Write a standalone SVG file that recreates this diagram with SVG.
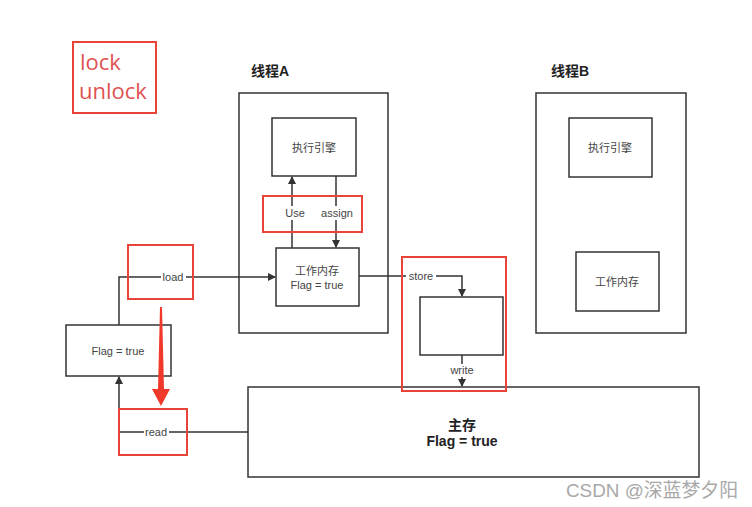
<svg xmlns="http://www.w3.org/2000/svg" width="752" height="507" viewBox="0 0 752 507">
<defs>
<marker id="ah" markerWidth="8" markerHeight="8" refX="7" refY="4" orient="auto" markerUnits="userSpaceOnUse">
<path d="M0,0 L8,4 L0,8 Z" fill="#333"/>
</marker>
<style>
.box{fill:#fff;stroke:#333;stroke-width:1.5}
.red{fill:none;stroke:#e8443a;stroke-width:2}
.ln{fill:none;stroke:#333;stroke-width:1.5}
.t{font-family:"Liberation Sans","Noto Sans CJK SC",sans-serif;font-size:11px;fill:#444;text-anchor:middle}
.tb{font-family:"Liberation Sans","Noto Sans CJK SC",sans-serif;font-size:14px;font-weight:bold;fill:#222}
.lbl{font-family:"Liberation Sans",sans-serif;font-size:11px;fill:#444;text-anchor:middle}
</style>
</defs>
<rect width="752" height="507" fill="#fff"/>

<g id="lockbox">
<rect class="red" x="73" y="42" width="83" height="71"/>
<text x="80" y="70" font-family="Open Sans,Liberation Sans,sans-serif" font-size="22" fill="#e05252">lock</text>
<text x="79" y="99" font-family="Open Sans,Liberation Sans,sans-serif" font-size="22" fill="#e05252">unlock</text>
</g>

<g id="threadA">
<text class="tb" x="251" y="76">线程A</text>
<rect class="box" x="239" y="93" width="149" height="240"/>
</g>
<g id="engineA">
<rect class="box" x="272" y="118" width="84" height="58"/>
<text class="t" x="314" y="152">执行引擎</text>
</g>
<g id="workA">
<rect class="box" x="276" y="248" width="83" height="58"/>
<text class="t" x="317" y="275">工作内存</text>
<text class="t" x="317" y="289">Flag = true</text>
</g>

<g id="threadB">
<text class="tb" x="551" y="76">线程B</text>
<rect class="box" x="536" y="93" width="150" height="240"/>
</g>
<g id="engineB">
<rect class="box" x="569" y="118" width="83" height="59"/>
<text class="t" x="610" y="152">执行引擎</text>
</g>
<g id="workB">
<rect class="box" x="576" y="252" width="83" height="59"/>
<text class="t" x="617" y="286">工作内存</text>
</g>

<g id="flag">
<rect class="box" x="66" y="325" width="105" height="51"/>
<text class="t" x="118" y="355">Flag = true</text>
</g>

<g id="mainmem">
<rect class="box" x="248" y="387" width="451" height="90"/>
<text class="tb" x="462" y="430" text-anchor="middle">主存</text>
<text class="tb" x="462" y="446" text-anchor="middle">Flag = true</text>
</g>

<g id="buffer">
<rect class="box" x="420" y="297" width="83" height="58"/>
</g>

<g id="connectors">
<path class="ln" d="M292,248 V177" marker-end="url(#ah)"/>
<path class="ln" d="M336,176 V247" marker-end="url(#ah)"/>
<path class="ln" d="M119,325 V277 H275" marker-end="url(#ah)"/>
<path class="ln" d="M248,432 H119 V377" marker-end="url(#ah)"/>
<path class="ln" d="M359,276 H462 V296" marker-end="url(#ah)"/>
<path class="ln" d="M462,355 V386" marker-end="url(#ah)"/>
<rect x="161" y="270" width="25" height="14" fill="#fff"/>
<text class="lbl" x="173" y="281">load</text>
<rect x="144" y="425" width="25" height="14" fill="#fff"/>
<text class="lbl" x="156" y="436">read</text>
<rect x="406" y="269" width="30" height="14" fill="#fff"/>
<text class="lbl" x="421" y="280">store</text>
<rect x="447" y="364" width="30" height="13" fill="#fff"/>
<text class="lbl" x="462" y="374">write</text>
<rect x="282" y="206" width="26" height="14" fill="#fff"/>
<text class="lbl" x="295" y="217">Use</text>
<rect x="320" y="206" width="34" height="14" fill="#fff"/>
<text class="lbl" x="337" y="217">assign</text>
</g>

<g id="highlights">
<rect class="red" x="263" y="196" width="99" height="36"/>
<rect class="red" x="128" y="245" width="65" height="54"/>
<rect class="red" x="119" y="409" width="68" height="46"/>
<rect class="red" x="402" y="257" width="104" height="134"/>
<path d="M160,307 L162,307 L164,389 L170,389 L161,406 L152,389 L158,389 Z" fill="#f0392b"/>
</g>

<text x="566" y="497" font-family="Liberation Sans,Noto Sans CJK SC,sans-serif" font-size="19" fill="#a8a8a8" textLength="172" lengthAdjust="spacingAndGlyphs">CSDN @深蓝梦夕阳</text>
</svg>
